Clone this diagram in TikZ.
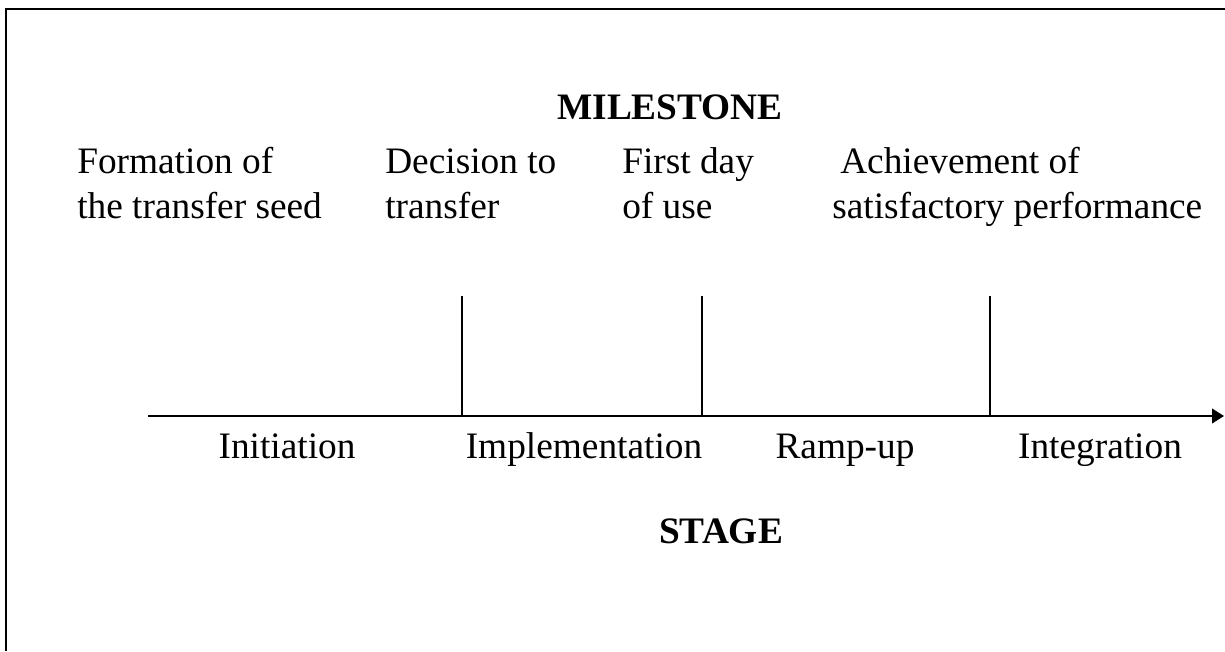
\documentclass[tikz,border=0pt]{standalone}
\usepackage{fontspec}
\setmainfont{Liberation Serif}
\usetikzlibrary{arrows.meta}
% two stacked lines whose reference point is the first baseline
\newcommand{\twolines}[2]{\vtop{\hbox{#1}\hbox{#2}}}
\begin{document}
\begin{tikzpicture}[x=0.75pt,y=-0.75pt,
  every node/.style={font=\fontsize{28}{34}\selectfont, inner sep=0pt},
  frameline/.style={line width=1.5pt},
  axisline/.style={line width=1.5pt, -{Triangle[length=9pt,width=11pt]}},
  tickline/.style={line width=1.2pt},
  mtext/.style={anchor=base west},
  stext/.style={anchor=base},
  heading/.style={anchor=base, font=\fontsize{28}{34}\selectfont\bfseries}]
  \useasboundingbox (0,0) rectangle (1225,651);

  % open frame: left and top edges only
  \coordinate (fbl) at (6,651);
  \coordinate (ftl) at (6,9);
  \coordinate (ftr) at (1225,9);
  \draw[frameline] (fbl) -- (ftl) -- (ftr);

  % headings
  \node[heading] (milestone) at (670,119) {MILESTONE};
  \node[heading] (stage) at (721,543) {STAGE};

  % milestone labels
  \node[mtext] (seed) at (77,173) {\twolines{Formation of}{the transfer seed}};
  \node[mtext] (decision) at (385,173) {\twolines{Decision to}{transfer}};
  \node[mtext] (firstday) at (622,173) {\twolines{First day}{of use}};
  \node[mtext] (achieve) at (832,173) {\twolines{\hspace*{6pt}Achievement of}{satisfactory performance}};

  % time axis
  \coordinate (axstart) at (148,416);
  \coordinate (axend) at (1224,416);
  \draw[axisline] (axstart) -- (axend);

  % milestone ticks
  \coordinate (m1top) at (462,296);
  \coordinate (m1bot) at (462,416);
  \coordinate (m2top) at (702,296);
  \coordinate (m2bot) at (702,416);
  \coordinate (m3top) at (990,296);
  \coordinate (m3bot) at (990,416);
  \draw[tickline] (m1top) -- (m1bot);
  \draw[tickline] (m2top) -- (m2bot);
  \draw[tickline] (m3top) -- (m3bot);

  % stage labels
  \node[stext] (initiation) at (287,458) {Initiation};
  \node[stext] (implementation) at (584,458) {Implementation};
  \node[stext] (rampup) at (845,458) {Ramp-up};
  \node[stext] (integration) at (1100,458) {Integration};
\end{tikzpicture}
\end{document}
